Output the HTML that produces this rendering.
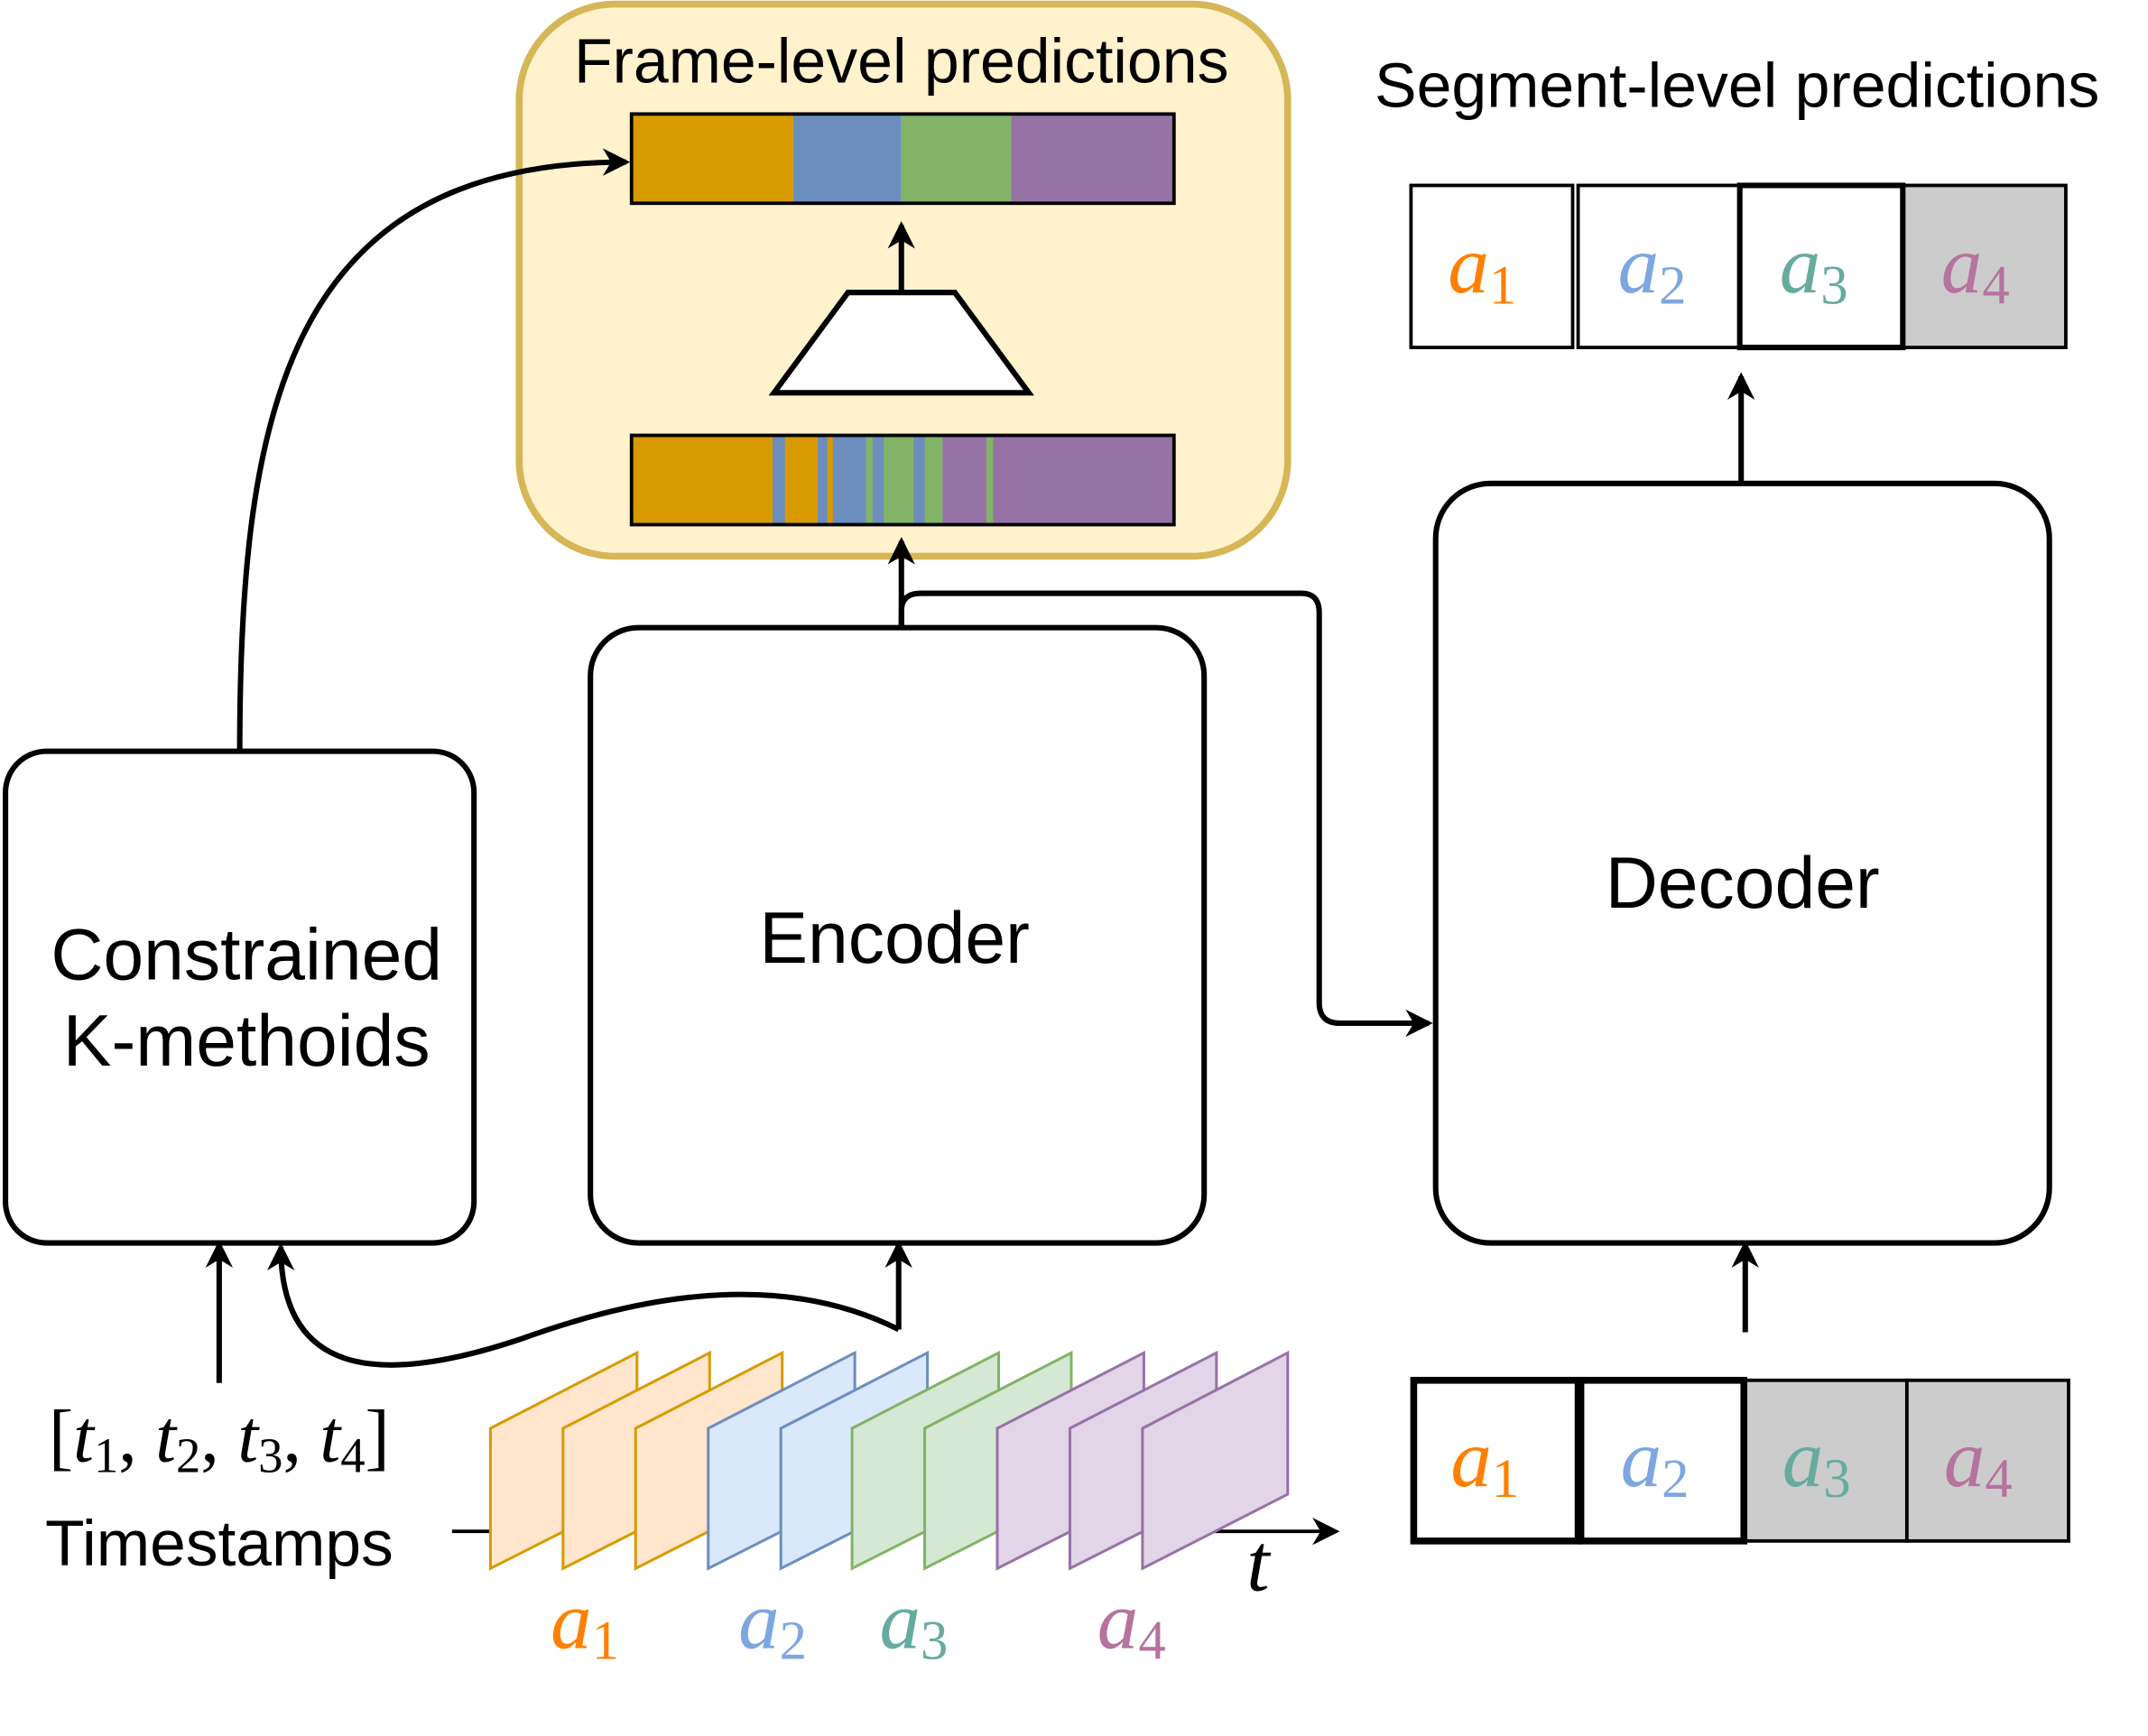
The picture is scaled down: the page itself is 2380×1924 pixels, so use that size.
<!DOCTYPE html>
<html><head><meta charset="utf-8"><style>
html,body{margin:0;padding:0;background:#fff;width:2380px;height:1924px;overflow:hidden}
svg{display:block}
.s{font-family:"Liberation Sans",sans-serif}
.m{font-family:"Liberation Serif",serif;font-style:italic}
</style></head><body>
<svg width="2380" height="1924" viewBox="0 0 1568 1264" preserveAspectRatio="none" xmlns="http://www.w3.org/2000/svg">
<defs>
<marker id="ah" viewBox="0 0 20 20" refX="17" refY="10" markerWidth="24" markerHeight="20" markerUnits="userSpaceOnUse" orient="auto">
<path d="M0,0 L20,10 L0,20 L6,10 Z" fill="#000"/>
</marker>
</defs>
<rect x="379" y="3" width="561" height="402" rx="70" fill="#fff2cc" stroke="#d6b656" stroke-width="5"/>
<text x="658" y="60" class="s" font-size="46" text-anchor="middle">Frame-level predictions</text>
<text x="1268" y="78" class="s" font-size="46" text-anchor="middle">Segment-level predictions</text>
<rect x="461" y="83" width="118" height="65" fill="#d79b00"/>
<rect x="579" y="83" width="79" height="65" fill="#6c8ebf"/>
<rect x="658" y="83" width="80" height="65" fill="#82b366"/>
<rect x="738" y="83" width="119" height="65" fill="#9673a6"/>
<rect x="461" y="83" width="396" height="65" fill="none" stroke="#000" stroke-width="2.5"/>
<rect x="461" y="317" width="396" height="65" fill="#9673a6"/>
<rect x="461" y="317" width="103" height="65" fill="#d79b00"/>
<rect x="564" y="317" width="9" height="65" fill="#6c8ebf"/>
<rect x="573" y="317" width="24" height="65" fill="#d79b00"/>
<rect x="597" y="317" width="7" height="65" fill="#6c8ebf"/>
<rect x="604" y="317" width="4" height="65" fill="#d79b00"/>
<rect x="608" y="317" width="24" height="65" fill="#6c8ebf"/>
<rect x="632" y="317" width="5" height="65" fill="#82b366"/>
<rect x="637" y="317" width="8" height="65" fill="#6c8ebf"/>
<rect x="645" y="317" width="22" height="65" fill="#82b366"/>
<rect x="667" y="317" width="8" height="65" fill="#6c8ebf"/>
<rect x="675" y="317" width="13" height="65" fill="#82b366"/>
<rect x="720" y="317" width="5" height="65" fill="#82b366"/>
<rect x="461" y="317" width="396" height="65" fill="none" stroke="#000" stroke-width="2.5"/>
<polygon points="619,213 697,213 751,286 565,286" fill="#fff" stroke="#000" stroke-width="4"/>
<g fill="none" stroke="#000" stroke-width="4">
<line x1="658" y1="212" x2="658" y2="164" marker-end="url(#ah)"/>
<line x1="658" y1="457" x2="658" y2="394" marker-end="url(#ah)"/>
<path d="M658,457 L658,445 Q658,432 672,432 L950,432 Q963,432 963,446 L963,730 Q963,745 978,745 L1043,745" marker-end="url(#ah)"/>
<rect x="431" y="457" width="448" height="448" rx="35" fill="#fff"/>
<rect x="4" y="547" width="342" height="358" rx="30" fill="#fff"/>
<rect x="1048" y="352" width="448" height="553" rx="40" fill="#fff"/>
<path d="M175,547 C175,300 210,118 457,118" marker-end="url(#ah)"/>
<line x1="1271" y1="352" x2="1271" y2="274" marker-end="url(#ah)"/>
<line x1="1274" y1="970" x2="1274" y2="906" marker-end="url(#ah)"/>
<line x1="160" y1="1007" x2="160" y2="906" marker-end="url(#ah)"/>
<line x1="656" y1="968" x2="656" y2="906" marker-end="url(#ah)"/>
<path d="M656,968 C560,920 450,950 380,975 C290,1005 205,1010 205,908" marker-end="url(#ah)"/>
</g>
<text x="653" y="701" class="s" font-size="53" text-anchor="middle">Encoder</text>
<text x="180" y="713" class="s" font-size="53" text-anchor="middle">Constrained</text>
<text x="180" y="776" class="s" font-size="53" text-anchor="middle">K-methoids</text>
<text x="1272" y="661" class="s" font-size="53" text-anchor="middle">Decoder</text>
<g stroke="#000" stroke-width="2.5">
<rect x="1030" y="135" width="118" height="118" fill="#fff"/>
<rect x="1152" y="135" width="118" height="118" fill="#fff"/>
<rect x="1389" y="135" width="119" height="118" fill="#ccc"/>
<rect x="1270" y="135" width="119" height="118" fill="#fff" stroke-width="4"/>
<rect x="1273" y="1005" width="119" height="117" fill="#ccc"/>
<rect x="1392" y="1005" width="118" height="117" fill="#ccc"/>
<rect x="1032" y="1005" width="120" height="117" fill="#fff" stroke-width="5"/>
<rect x="1154" y="1005" width="119" height="117" fill="#fff" stroke-width="5"/>
</g>
<g class="m" font-size="60">
<text x="1057" y="213" fill="#ff8000">a<tspan font-size="40" font-style="normal" dy="8">1</tspan></text>
<text x="1181" y="213" fill="#7ea6e0">a<tspan font-size="40" font-style="normal" dy="8">2</tspan></text>
<text x="1299" y="213" fill="#67ab9f">a<tspan font-size="40" font-style="normal" dy="8">3</tspan></text>
<text x="1417" y="213" fill="#b5739d">a<tspan font-size="40" font-style="normal" dy="8">4</tspan></text>
<text x="1059" y="1082" fill="#ff8000">a<tspan font-size="40" font-style="normal" dy="8">1</tspan></text>
<text x="1183" y="1082" fill="#7ea6e0">a<tspan font-size="40" font-style="normal" dy="8">2</tspan></text>
<text x="1301" y="1082" fill="#67ab9f">a<tspan font-size="40" font-style="normal" dy="8">3</tspan></text>
<text x="1419" y="1082" fill="#b5739d">a<tspan font-size="40" font-style="normal" dy="8">4</tspan></text>
<text x="402" y="1200" fill="#ff8000">a<tspan font-size="40" font-style="normal" dy="8">1</tspan></text>
<text x="539" y="1200" fill="#7ea6e0">a<tspan font-size="40" font-style="normal" dy="8">2</tspan></text>
<text x="642" y="1200" fill="#67ab9f">a<tspan font-size="40" font-style="normal" dy="8">3</tspan></text>
<text x="801" y="1200" fill="#b5739d">a<tspan font-size="40" font-style="normal" dy="8">4</tspan></text>
<text x="910" y="1158" fill="#000">t</text>
</g>
<g stroke="#000" stroke-width="2.5" fill="none">
<line x1="330" y1="1115" x2="360" y2="1115"/>
<line x1="880" y1="1115" x2="975" y2="1115" marker-end="url(#ah)"/>
</g>
<g stroke-width="2">
<polygon points="358,1040 465,985 465,1088 358,1142" fill="#ffe6cc" stroke="#d79b00"/>
<polygon points="411,1040 518,985 518,1088 411,1142" fill="#ffe6cc" stroke="#d79b00"/>
<polygon points="464,1040 571,985 571,1088 464,1142" fill="#ffe6cc" stroke="#d79b00"/>
<polygon points="517,1040 624,985 624,1088 517,1142" fill="#dae8fc" stroke="#6c8ebf"/>
<polygon points="570,1040 677,985 677,1088 570,1142" fill="#dae8fc" stroke="#6c8ebf"/>
<polygon points="622,1040 729,985 729,1088 622,1142" fill="#d5e8d4" stroke="#82b366"/>
<polygon points="675,1040 782,985 782,1088 675,1142" fill="#d5e8d4" stroke="#82b366"/>
<polygon points="728,1040 835,985 835,1088 728,1142" fill="#e1d5e7" stroke="#9673a6"/>
<polygon points="781,1040 888,985 888,1088 781,1142" fill="#e1d5e7" stroke="#9673a6"/>
<polygon points="834,1040 940,985 940,1088 834,1142" fill="#e1d5e7" stroke="#9673a6"/>
</g>
<text x="160" y="1064" font-size="54" text-anchor="middle" font-family="Liberation Serif,serif">[<tspan font-style="italic">t</tspan><tspan font-size="36" dy="8">1</tspan><tspan dy="-8">, </tspan><tspan font-style="italic">t</tspan><tspan font-size="36" dy="8">2</tspan><tspan dy="-8">, </tspan><tspan font-style="italic">t</tspan><tspan font-size="36" dy="8">3</tspan><tspan dy="-8">, </tspan><tspan font-style="italic">t</tspan><tspan font-size="36" dy="8">4</tspan><tspan dy="-8">]</tspan></text>
<text x="160" y="1140" class="s" font-size="47" text-anchor="middle">Timestamps</text>
</svg>
</body></html>
